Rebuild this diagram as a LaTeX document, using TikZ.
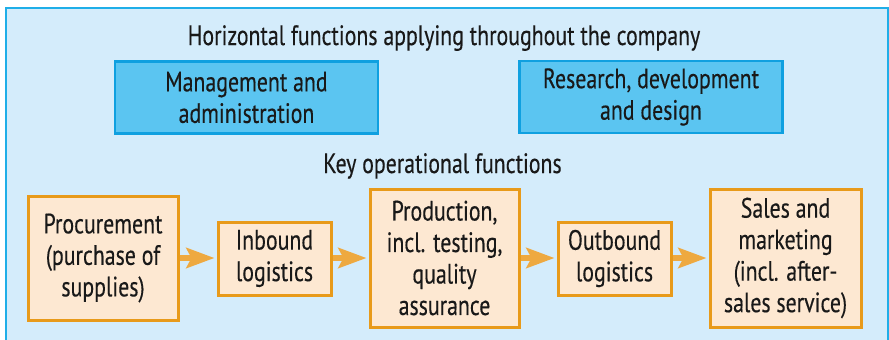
\documentclass[tikz,border=0pt]{standalone}
\usepackage{fontspec}
\setmainfont{PT Sans}[FakeStretch=0.78,FakeBold=0.3]
\usetikzlibrary{arrows.meta}
\definecolor{outerfill}{HTML}{D4ECFB}
\definecolor{outerline}{HTML}{1FAEE8}
\definecolor{bluefill}{HTML}{5BC5F1}
\definecolor{blueline}{HTML}{0FA0E0}
\definecolor{orfill}{HTML}{FDE8D2}
\definecolor{orline}{HTML}{E89A1A}
\definecolor{arrowcol}{HTML}{EEA940}
\tikzset{
  txt/.style={font=\fontsize{28}{31.5}\selectfont, text=black!90, inner sep=0pt},
  hbox/.style={txt, draw=blueline, fill=bluefill, line width=2.5pt, align=center,
    minimum width=263pt, minimum height=72pt},
  obox/.style={txt, draw=orline, fill=orfill, line width=3pt, align=center},
  flow/.style={draw=arrowcol, line width=6pt, -{Stealth[length=28pt,width=20pt,inset=5pt]}, shorten >=2pt}
}
\begin{document}
\begin{tikzpicture}[x=1pt,y=-1pt]
\useasboundingbox (0,0) rectangle (889,340);
\draw[fill=outerfill, draw=outerline, line width=1.8pt] (6,8) rectangle (888,350);
\node[txt, anchor=base] (title) at (444,45) {Horizontal functions applying throughout the company};
\node[hbox] (mgmt) at (246.5,97.5) {Management and\\administration};
\node[hbox] (rnd) at (651,97) {Research, development\\and design};
\node[txt, anchor=base] (key) at (442.5,173) {Key operational functions};
\node[obox, minimum width=150pt, minimum height=124pt] (proc) at (103,258) {Procurement\\(purchase of\\supplies)};
\node[obox, minimum width=113pt, minimum height=73pt] (inb) at (274.5,258.5) {Inbound\\logistics};
\node[obox, minimum width=149pt, minimum height=138pt] (prod) at (444.5,258) {Production,\\incl. testing,\\quality\\assurance};
\node[obox, minimum width=113pt, minimum height=73pt] (outb) at (614.5,258.5) {Outbound\\logistics};
\node[obox, minimum width=151pt, minimum height=138pt] (sales) at (785.5,258) {Sales and\\marketing\\(incl. after-\\sales service)};
\draw[flow] (proc.east |- 0,258) -- (inb.west |- 0,258);
\draw[flow] (inb.east |- 0,258) -- (prod.west |- 0,258);
\draw[flow] (prod.east |- 0,258) -- (outb.west |- 0,258);
\draw[flow] (outb.east |- 0,258) -- (sales.west |- 0,258);
\end{tikzpicture}
\end{document}
